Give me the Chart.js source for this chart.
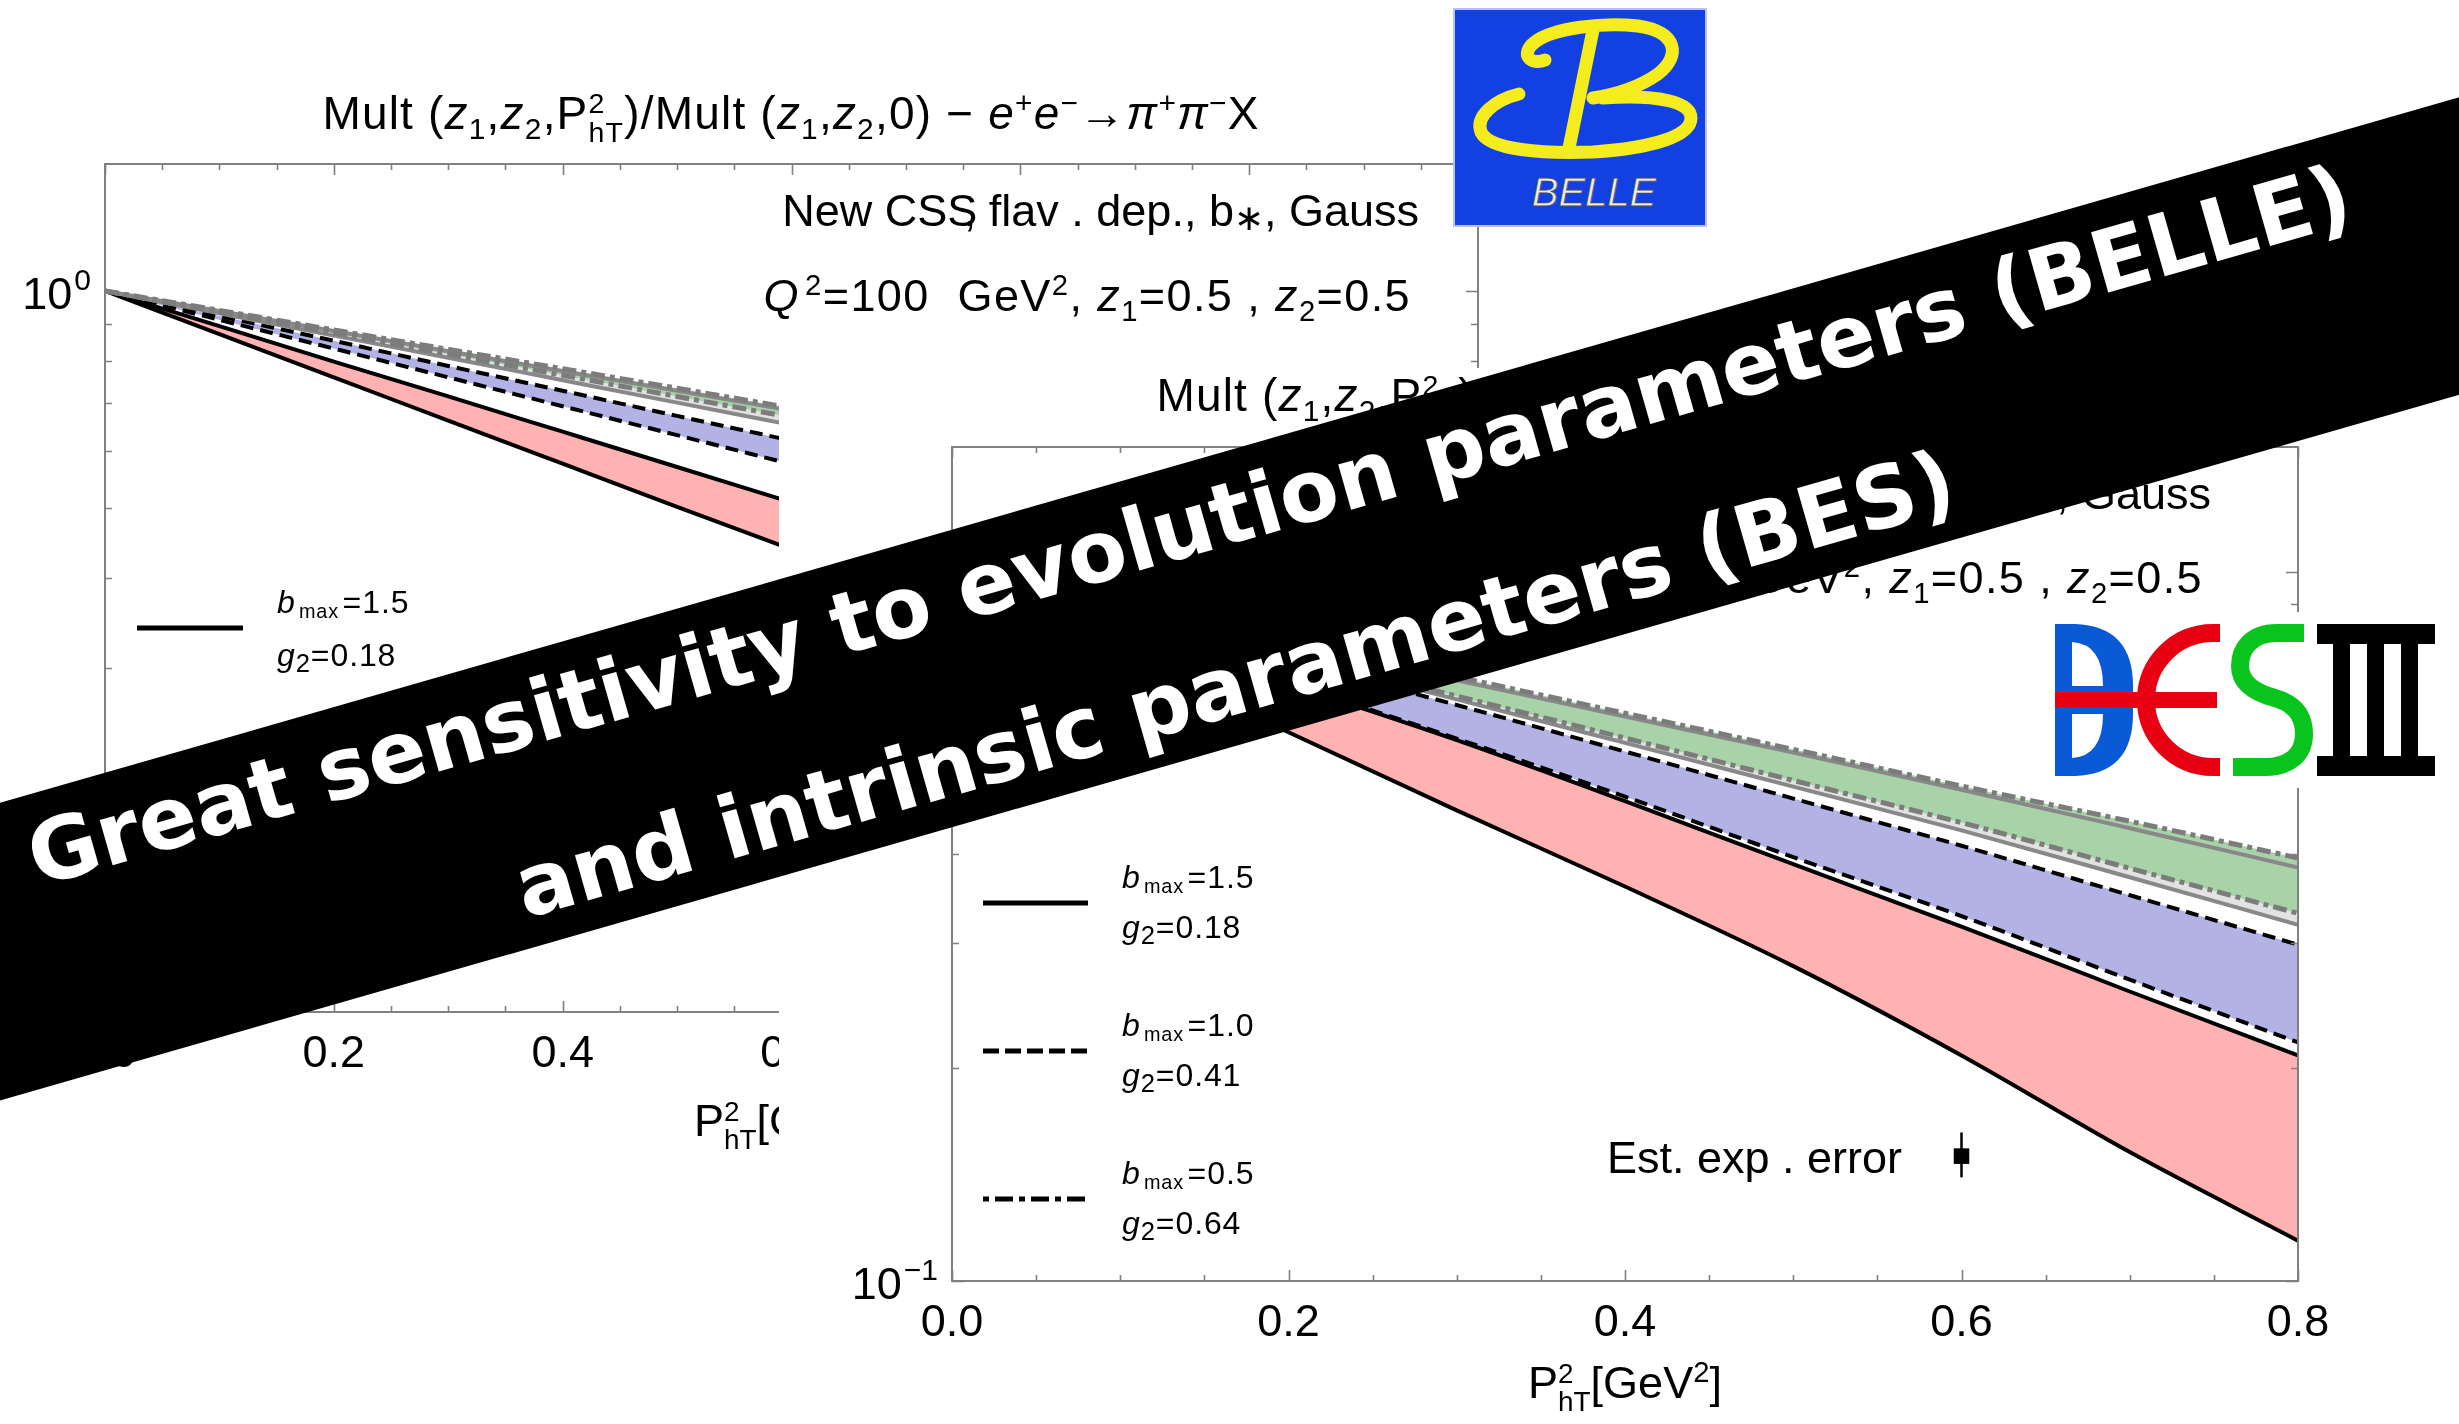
<!DOCTYPE html>
<html>
<head>
<meta charset="utf-8">
<script src="https://cdn.jsdelivr.net/npm/chart.js@4.4.1/dist/chart.umd.min.js"></script>
<style>
  html, body { margin: 0; padding: 0; background: #fff; }
  body { width: 2459px; height: 1424px; position: relative; overflow: hidden;
         font-family: "Liberation Sans", Arial, Helvetica, sans-serif; }
  .panel { position: absolute; }
  #bellePanel { left: 0; top: 0; width: 1560px; height: 1160px; z-index: 1; }
  #besPanel { left: 779px; top: 368px; width: 1680px; height: 1056px; z-index: 2; background: #fff; }
  .panel canvas { position: absolute; left: 0; top: 0; }
  .t { position: absolute; white-space: nowrap; line-height: 1; color: #000; }
  .c { transform: translate(-50%, -50%); }
  .r { transform: translate(-100%, -50%); }
  .l { transform: translate(0, -50%); }
  .ttl { font-size: 46px; letter-spacing: 1.2px; }
  .big { font-size: 45px; }
  .wide { letter-spacing: 1.4px; }
  .ax { font-size: 45px; }
  .leg { font-size: 32px; letter-spacing: 0.9px; }
  sub, sup { font-size: .65em; line-height: 0; }
  sub.m { font-size: .62em; vertical-align: -0.25em; margin: 0 .18em 0 .16em; }
  sub.n { font-size: .8em; vertical-align: -0.22em; }
  sup.q { margin-left: .18em; }
  .ss { display: inline-block; font-size: .62em; line-height: 1; vertical-align: -0.45em; text-align: left; }
  .ss span { display: block; }
  .cm { margin-left: -.3em; }
  .st { vertical-align: -0.12em; font-size: .8em; }
  svg.lg { position: absolute; overflow: visible; }
  #belleLogo { position: absolute; left: 1453px; top: 8px; z-index: 5; }
  #besLogo { position: absolute; left: 2050px; top: 612px; z-index: 5; }
  #banner { position: absolute; left: -271px; top: 456px; width: 3000px; height: 286px; background: #000;
            transform: rotate(-16.01deg); transform-origin: 50% 50%; z-index: 10; }
  #banner span { position: absolute; left: calc(50% - 18px); transform: translate(-50%, -50%);
                 color: #fff; font-family: "DejaVu Sans", sans-serif; font-weight: bold; font-size: 86px;
                 white-space: nowrap; line-height: 1; }
  #banner .l1 { top: 61px; }
  #banner .l2 { top: 226px; }
</style>
</head>
<body>

<!-- e+e- -> pi+ pi- X at Q^2 = 100 GeV^2 -->
<div id="bellePanel" class="panel">
  <canvas id="belleChart" width="1560" height="1160"></canvas>
  <div class="t ttl c" style="left:791px;top:118px">Mult (<i>z</i><sub>1</sub>,<i>z</i><sub>2</sub>,P<span class="ss"><span>2</span><span>hT</span></span>)/Mult (<i>z</i><sub>1</sub>,<i>z</i><sub>2</sub>,0) − <i>e</i><sup>+</sup><i>e</i><sup>−</sup>→<i>π</i><sup>+</sup><i>π</i><sup>−</sup>X</div>
  <div class="t big r" style="left:1419px;top:212px">New CSS<span class="cm">,</span> flav . dep., b<span class="st">∗</span>, Gauss</div>
  <div class="t big wide r" style="left:1411px;top:295px"><i>Q</i><sup class="q">2</sup>=100&nbsp; GeV<sup>2</sup>, <i>z</i><sub>1</sub>=0.5 , <i>z</i><sub>2</sub>=0.5</div>
  <div class="t ax c" style="left:791px;top:1126px">P<span class="ss"><span>2</span><span>hT</span></span>[GeV<sup>2</sup>]</div>

  <svg class="lg" style="left:137px;top:618px" width="110" height="20"><line x1="0" y1="10" x2="106" y2="10" stroke="#000" stroke-width="5"/></svg>
  <div class="t leg l" style="left:277px;top:602px"><i>b</i><sub class="m">max</sub>=1.5</div>
  <div class="t leg l" style="left:277px;top:655px"><i>g</i><sub class="n">2</sub>=0.18</div>
  <svg class="lg" style="left:137px;top:766px" width="110" height="20"><line x1="0" y1="10" x2="106" y2="10" stroke="#000" stroke-width="5" stroke-dasharray="16 6"/></svg>
  <div class="t leg l" style="left:277px;top:750px"><i>b</i><sub class="m">max</sub>=1.0</div>
  <div class="t leg l" style="left:277px;top:803px"><i>g</i><sub class="n">2</sub>=0.41</div>
  <svg class="lg" style="left:137px;top:914px" width="110" height="20"><line x1="0" y1="10" x2="106" y2="10" stroke="#000" stroke-width="5" stroke-dasharray="6 6 18 6"/></svg>
  <div class="t leg l" style="left:277px;top:898px"><i>b</i><sub class="m">max</sub>=0.5</div>
  <div class="t leg l" style="left:277px;top:951px"><i>g</i><sub class="n">2</sub>=0.64</div>
</div>

<!-- e+e- -> pi+ pi- X at BES energies -->
<div id="besPanel" class="panel">
  <canvas id="besChart" width="1680" height="1056"></canvas>
  <div class="t ttl c" style="left:846px;top:32px">Mult (<i>z</i><sub>1</sub>,<i>z</i><sub>2</sub>,P<span class="ss"><span>2</span><span>hT</span></span>)/Mult (<i>z</i><sub>1</sub>,<i>z</i><sub>2</sub>,0) − <i>e</i><sup>+</sup><i>e</i><sup>−</sup>→<i>π</i><sup>+</sup><i>π</i><sup>−</sup>X</div>
  <div class="t big r" style="left:1432px;top:127px">New CSS<span class="cm">,</span> flav . dep., b<span class="st">∗</span>, Gauss</div>
  <div class="t big wide r" style="left:1424px;top:209px"><i>Q</i><sup class="q">2</sup>=13&nbsp; GeV<sup>2</sup>, <i>z</i><sub>1</sub>=0.5 , <i>z</i><sub>2</sub>=0.5</div>
  <div class="t ax c" style="left:846px;top:1020px">P<span class="ss"><span>2</span><span>hT</span></span>[GeV<sup>2</sup>]</div>
  <div class="t big r" style="left:1123px;top:789px">Est. exp . error</div>

  <svg class="lg" style="left:204px;top:525px" width="110" height="20"><line x1="0" y1="10" x2="105" y2="10" stroke="#000" stroke-width="5"/></svg>
  <div class="t leg l" style="left:343px;top:509px"><i>b</i><sub class="m">max</sub>=1.5</div>
  <div class="t leg l" style="left:343px;top:559px"><i>g</i><sub class="n">2</sub>=0.18</div>
  <svg class="lg" style="left:204px;top:673px" width="110" height="20"><line x1="0" y1="10" x2="105" y2="10" stroke="#000" stroke-width="5" stroke-dasharray="16 6"/></svg>
  <div class="t leg l" style="left:343px;top:657px"><i>b</i><sub class="m">max</sub>=1.0</div>
  <div class="t leg l" style="left:343px;top:707px"><i>g</i><sub class="n">2</sub>=0.41</div>
  <svg class="lg" style="left:204px;top:821px" width="110" height="20"><line x1="0" y1="10" x2="105" y2="10" stroke="#000" stroke-width="5" stroke-dasharray="6 6 18 6"/></svg>
  <div class="t leg l" style="left:343px;top:805px"><i>b</i><sub class="m">max</sub>=0.5</div>
  <div class="t leg l" style="left:343px;top:855px"><i>g</i><sub class="n">2</sub>=0.64</div>
</div>

<!-- Belle logo -->
<svg id="belleLogo" width="254" height="219" viewBox="0 0 254 219">
  <rect x="1" y="1" width="252" height="217" fill="#1240e2" stroke="#b8c0ff" stroke-width="2"/>
  <g fill="none" stroke="#f4ec1c" stroke-width="13" stroke-linecap="round">
    <path d="M92 52 C78 58 66 46 82 34 C100 20 150 14 185 18 C225 24 228 48 205 66 C188 78 165 86 140 90"/>
    <path d="M140 22 L116 140"/>
    <path d="M66 86 C42 92 22 108 28 124 C36 142 90 146 140 144 C200 140 238 128 238 110 C238 94 205 86 150 90"/>
  </g>
  <text x="141" y="198" text-anchor="middle" font-family="Liberation Sans, Arial, sans-serif" font-style="italic" font-size="40" fill="#ececdc" stroke="#4a4a5a" stroke-width="0.8">BELLE</text>
</svg>

<!-- BESIII logo -->
<svg id="besLogo" width="395" height="176" viewBox="0 0 395 176">
  <rect x="0" y="0" width="395" height="176" fill="#fff"/>
  <g transform="translate(5,12)">
    <path fill="#0a5ad8" fill-rule="evenodd"
      d="M0 0 L20 0 Q78 2 78 62 L78 68 L0 68 Z M17 18 Q48 20 48 62 L17 62 Z
         M0 152 L20 152 Q78 150 78 90 L78 84 L0 84 Z M17 134 Q48 132 48 90 L17 90 Z"/>
    <path d="M165 9 L158 9 A67 67 0 0 0 158 143 L165 143" fill="none" stroke="#e60012" stroke-width="18"/>
    <rect x="0" y="68" width="162" height="16" fill="#e60012"/>
    <path d="M249 9 L222 9 C196 9 185 25 185 42 C185 62 205 70 220 74 C240 80 249 92 249 110 C249 130 235 143 210 143 L178 143"
      fill="none" stroke="#08c41c" stroke-width="18"/>
    <g fill="#000">
      <rect x="262" y="0" width="118" height="20"/>
      <rect x="262" y="132" width="118" height="20"/>
      <rect x="278" y="20" width="17" height="112"/>
      <rect x="312" y="20" width="17" height="112"/>
      <rect x="346" y="20" width="17" height="112"/>
    </g>
  </g>
</svg>

<div id="banner">
  <span class="l1">Great sensitivity to evolution parameters (BELLE)</span>
  <span class="l2">and intrinsic parameters (BES)</span>
</div>

<script>
// ---- model curves, Mult(z1,z2,PhT^2)/Mult(z1,z2,0) ----
// Belle kinematics (Q^2 = 100 GeV^2)
const ptBelle = [0, 0.1, 0.2, 0.3, 0.4, 0.5, 0.6];
const belleDotDashUpper = [1, 0.940, 0.883, 0.830, 0.780, 0.733, 0.688];
const belleDotDashLower = [1, 0.935, 0.874, 0.817, 0.764, 0.714, 0.668];
const belleGrayUpper    = [1, 0.938, 0.880, 0.825, 0.774, 0.727, 0.682];
const belleGrayLower    = [1, 0.931, 0.867, 0.808, 0.752, 0.700, 0.652];
const belleDashedUpper  = [1, 0.923, 0.853, 0.787, 0.727, 0.671, 0.620];
const belleDashedLower  = [1, 0.912, 0.832, 0.759, 0.692, 0.631, 0.575];
const belleSolidUpper   = [1, 0.894, 0.798, 0.714, 0.638, 0.570, 0.509];
const belleSolidLower   = [1, 0.871, 0.759, 0.661, 0.576, 0.502, 0.438];

// BES kinematics
const ptBes = [0, 0.1, 0.2, 0.3, 0.4, 0.5, 0.6, 0.7, 0.8];
const besDotDashUpper = [1, 0.893, 0.796, 0.711, 0.632, 0.562, 0.499, 0.445, 0.395];
const besDotDashLower = [1, 0.875, 0.764, 0.668, 0.583, 0.508, 0.443, 0.382, 0.330];
const besGrayUpper    = [1, 0.889, 0.791, 0.703, 0.625, 0.556, 0.493, 0.435, 0.383];
const besGrayLower    = [1, 0.871, 0.759, 0.661, 0.574, 0.498, 0.432, 0.371, 0.318];
const besDashedUpper  = [1, 0.865, 0.750, 0.649, 0.558, 0.479, 0.411, 0.350, 0.298];
const besDashedLower  = [1, 0.836, 0.698, 0.582, 0.482, 0.396, 0.327, 0.266, 0.217];
const besSolidUpper   = [1, 0.834, 0.695, 0.579, 0.475, 0.387, 0.316, 0.256, 0.208];
const besSolidLower   = [1, 0.771, 0.594, 0.461, 0.360, 0.278, 0.208, 0.152, 0.114];

// estimated experimental error bar
const errX = [0.6];
const errCentral = [0.150];
const errLow = [0.140];
const errHigh = [0.162];

// axis ticks
const belleXLabels = ['0.0', '0.2', '0.4', '0.6', '0.8', '1.0', '1.2'];
const besXLabels = ['0.0', '0.2', '0.4', '0.6', '0.8'];
const yTickValues = [0.1, 0.2, 0.3, 0.4, 0.5, 0.6, 0.7, 0.8, 0.9, 1.0];
const yDecadeTicks = [0.1, 1.0];
const yDecadeExponents = ['−1', '0'];

Chart.defaults.font.family = "'Liberation Sans', Arial, Helvetica, sans-serif";
Chart.defaults.color = '#000';

const pts = (xs, ys) => xs.map((x, i) => ({ x, y: ys[i] }));

const GREEN = 'rgb(168,210,168)', LIGHT = 'rgb(226,226,226)', BLUE = 'rgb(178,178,228)', RED = 'rgb(255,178,178)';
const DOTDASH = [14, 5, 5, 5], DASH = [13, 7];

function bandDatasets(xs, s) {
  const base = { pointRadius: 0, cubicInterpolationMode: 'monotone' };
  return [
    { ...base, data: pts(xs, s.ddU), borderColor: '#7c7c7c', borderWidth: 5, borderDash: DOTDASH, fill: '+1', backgroundColor: GREEN },
    { ...base, data: pts(xs, s.ddL), borderColor: '#7c7c7c', borderWidth: 5, borderDash: DOTDASH, fill: false },
    { ...base, data: pts(xs, s.gU), borderColor: '#888', borderWidth: 4, fill: '+1', backgroundColor: LIGHT },
    { ...base, data: pts(xs, s.gL), borderColor: '#888', borderWidth: 4, fill: false },
    { ...base, data: pts(xs, s.dU), borderColor: '#000', borderWidth: 4, borderDash: DASH, fill: '+1', backgroundColor: BLUE },
    { ...base, data: pts(xs, s.dL), borderColor: '#000', borderWidth: 4, borderDash: DASH, fill: false },
    { ...base, data: pts(xs, s.sU), borderColor: '#000', borderWidth: 4, fill: '+1', backgroundColor: RED },
    { ...base, data: pts(xs, s.sL), borderColor: '#000', borderWidth: 4, fill: false }
  ];
}

// frame with inward ticks on all four sides, decade labels 10^n on the left
const frameTicks = {
  id: 'frameTicks',
  afterDatasetsDraw(chart) {
    const { ctx, chartArea: a, scales: { x, y } } = chart;
    ctx.save();
    ctx.strokeStyle = '#808080';
    ctx.lineWidth = 2;
    ctx.strokeRect(a.left, a.top, a.right - a.left, a.bottom - a.top);
    ctx.lineWidth = 1.6;
    ctx.beginPath();
    const n = Math.round((x.max - x.min) / 0.05);
    for (let i = 0; i <= n; i++) {
      const v = x.min + i * 0.05;
      const px = Math.round(x.getPixelForValue(v)) + 0.5;
      const L = i % 4 === 0 ? 11 : 6;
      ctx.moveTo(px, a.bottom); ctx.lineTo(px, a.bottom - L);
      ctx.moveTo(px, a.top); ctx.lineTo(px, a.top + L);
    }
    yTickValues.forEach(v => {
      const py = Math.round(y.getPixelForValue(v)) + 0.5;
      const L = yDecadeTicks.includes(v) ? 12 : 7;
      ctx.moveTo(a.left, py); ctx.lineTo(a.left + L, py);
      ctx.moveTo(a.right, py); ctx.lineTo(a.right - L, py);
    });
    ctx.stroke();
    ctx.restore();
  },
  afterDraw(chart) {
    const { ctx, chartArea: a, scales: { y } } = chart;
    ctx.save();
    ctx.fillStyle = '#000';
    ctx.textAlign = 'right';
    ctx.textBaseline = 'alphabetic';
    yDecadeTicks.forEach((v, i) => {
      const py = y.getPixelForValue(v);
      const right = a.left - 14;
      ctx.font = "30px 'Liberation Sans', Arial, sans-serif";
      const ew = ctx.measureText(yDecadeExponents[i]).width;
      ctx.fillText(yDecadeExponents[i], right, py - 1);
      ctx.font = "45px 'Liberation Sans', Arial, sans-serif";
      ctx.fillText('10', right - ew - 2, py + 18);
    });
    ctx.restore();
  }
};

function makeOptions(xMax, xLabels, yAxisWidth, xAxisHeight, padding) {
  return {
    responsive: false,
    animation: false,
    events: [],
    layout: { padding },
    plugins: {
      legend: { display: false },
      tooltip: { enabled: false },
      filler: { drawTime: 'beforeDatasetsDraw' }
    },
    scales: {
      x: {
        type: 'linear', min: 0, max: xMax,
        grid: { display: false, drawTicks: false },
        border: { display: false },
        ticks: { stepSize: 0.2, padding: 16, font: { size: 45 }, maxRotation: 0, autoSkip: false,
                 callback: (v, i) => xLabels[i] },
        afterFit: s => { s.height = xAxisHeight; }
      },
      y: {
        type: 'logarithmic', min: 0.1, max: 1.5,
        grid: { display: false, drawTicks: false },
        border: { display: false },
        afterBuildTicks: s => { s.ticks = yTickValues.map(v => ({ value: v })); },
        ticks: { display: false },
        afterFit: s => { s.width = yAxisWidth; }
      }
    }
  };
}

new Chart(document.getElementById('belleChart'), {
  type: 'line',
  data: {
    datasets: bandDatasets(ptBelle, {
      ddU: belleDotDashUpper, ddL: belleDotDashLower, gU: belleGrayUpper, gL: belleGrayLower,
      dU: belleDashedUpper, dL: belleDashedLower, sU: belleSolidUpper, sL: belleSolidLower
    })
  },
  options: makeOptions(1.2, belleXLabels, 105, 148, { top: 164, right: 82, left: 0, bottom: 0 }),
  plugins: [frameTicks]
});

new Chart(document.getElementById('besChart'), {
  type: 'line',
  data: {
    datasets: [
      { data: errX.map((x, i) => ({ x, y: errCentral[i] })), showLine: false, pointStyle: 'rect',
        pointRadius: 11, pointBackgroundColor: '#000', pointBorderWidth: 0 },
      { data: [{ x: errX[0], y: errLow[0] }, { x: errX[0], y: errHigh[0] }], borderColor: '#000',
        borderWidth: 2.5, pointRadius: 0, fill: false },
      ...bandDatasets(ptBes, {
        ddU: besDotDashUpper, ddL: besDotDashLower, gU: besGrayUpper, gL: besGrayLower,
        dU: besDashedUpper, dL: besDashedLower, sU: besSolidUpper, sL: besSolidLower
      })
    ]
  },
  options: makeOptions(0.8, besXLabels, 173, 143, { top: 79, right: 161, left: 0, bottom: 0 }),
  plugins: [frameTicks]
});
</script>
</body>
</html>
